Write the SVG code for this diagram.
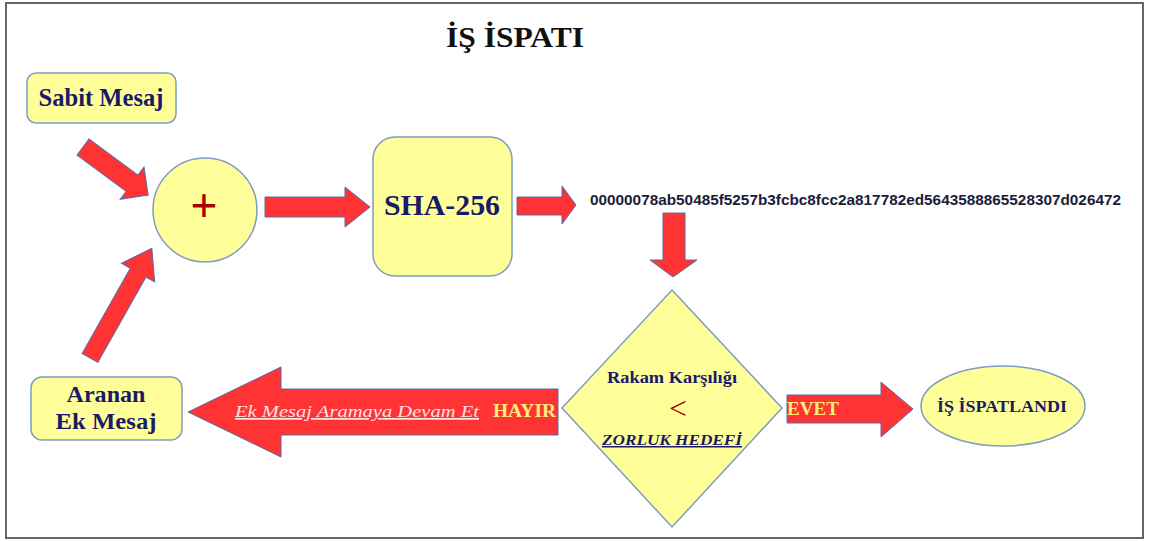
<svg xmlns="http://www.w3.org/2000/svg" width="1151" height="541" viewBox="0 0 1151 541">
<style>
.box{fill:#ffff99;stroke:#7f9cc4;stroke-width:1.5}
.arr{fill:#ff3333;stroke:#5b6aa3;stroke-width:1}
.lbl{font-family:"Liberation Serif","Times New Roman",serif;font-weight:bold;fill:#1a1a66}
.yel{font-family:"Liberation Serif","Times New Roman",serif;font-weight:bold;fill:#ffee77}
.red{font-family:"Liberation Serif","Times New Roman",serif;fill:#aa0000}
</style>
<rect x="6" y="3" width="1137" height="535" fill="#ffffff" stroke="#666666" stroke-width="2"/>
<g id="title">
<text class="lbl" x="515" y="47" font-size="29" text-anchor="middle" style="fill:#111111" textLength="138" lengthAdjust="spacingAndGlyphs">İŞ İSPATI</text>
</g>
<g id="connectors">
<path class="arr" transform="translate(83,147) rotate(36.4)" d="M0,-10 H61 V-20 L81,0 L61,20 V10 H0 Z"/>
<path class="arr" transform="translate(90,358) rotate(-60.6)" d="M0,-9 H98 V-19 L126,0 L98,19 V9 H0 Z"/>
<polygon class="arr" points="265,197 345,197 345,187 370,207 345,227 345,217 265,217"/>
<polygon class="arr" points="517,197 562,197 562,186 576,205 562,224 562,215 517,215"/>
<polygon class="arr" points="663,213 685,213 685,260 697,260 673,277 650,260 663,260"/>
<polygon class="arr" points="787,395 881,395 881,382 913,409 881,437 881,423 787,423"/>
<polygon class="arr" points="188,412 281,367 281,389 558,389 558,435 281,435 281,457"/>
<text x="235" y="417" font-family="Liberation Serif,Times New Roman,serif" font-style="italic" font-size="17" fill="#ffe4e4" text-decoration="underline" textLength="244" lengthAdjust="spacingAndGlyphs">Ek Mesaj Aramaya Devam Et</text>
<text class="yel" x="493" y="417" font-size="18" textLength="63" lengthAdjust="spacingAndGlyphs">HAYIR</text>
<text class="yel" x="787" y="415" font-size="19" textLength="52" lengthAdjust="spacingAndGlyphs">EVET</text>
</g>
<g id="sabit">
<rect class="box" x="27" y="73" width="149" height="50" rx="9"/>
<text class="lbl" x="101" y="106" font-size="26" text-anchor="middle" textLength="125" lengthAdjust="spacingAndGlyphs">Sabit Mesaj</text>
</g>
<g id="plus">
<circle class="box" cx="205" cy="210" r="52"/>
<text class="red" x="204" y="222" font-size="48" font-weight="bold" text-anchor="middle">+</text>
</g>
<g id="sha">
<rect class="box" x="373" y="137" width="139" height="139" rx="22"/>
<text class="lbl" x="442" y="215" font-size="29" text-anchor="middle" textLength="116" lengthAdjust="spacingAndGlyphs">SHA-256</text>
</g>
<g id="hash">
<text x="590" y="205" font-family="Liberation Sans,Arial,sans-serif" font-size="15" font-weight="bold" fill="#1c1c3a" textLength="531" lengthAdjust="spacingAndGlyphs">00000078ab50485f5257b3fcbc8fcc2a817782ed5643588865528307d026472</text>
</g>
<g id="decision">
<polygon class="box" points="672,290 782,408 672,527 562,408"/>
<text class="lbl" x="672" y="383" font-size="16" text-anchor="middle" textLength="130" lengthAdjust="spacingAndGlyphs">Rakam Karşılığı</text>
<text class="red" x="678" y="419" font-size="32" text-anchor="middle">&lt;</text>
<text class="lbl" x="672" y="445" font-size="15" font-style="italic" text-anchor="middle" text-decoration="underline" textLength="140" lengthAdjust="spacingAndGlyphs">ZORLUK HEDEFİ</text>
</g>
<g id="proved">
<ellipse class="box" cx="1003" cy="406" rx="82" ry="40"/>
<text class="lbl" x="1002" y="412" font-size="16" text-anchor="middle" textLength="130" lengthAdjust="spacingAndGlyphs">İŞ İSPATLANDI</text>
</g>
<g id="aranan">
<rect class="box" x="31" y="377" width="151" height="63" rx="11"/>
<text class="lbl" x="106" y="402" font-size="23" text-anchor="middle" textLength="79" lengthAdjust="spacingAndGlyphs">Aranan</text>
<text class="lbl" x="106" y="429" font-size="23" text-anchor="middle" textLength="101" lengthAdjust="spacingAndGlyphs">Ek Mesaj</text>
</g>
</svg>
